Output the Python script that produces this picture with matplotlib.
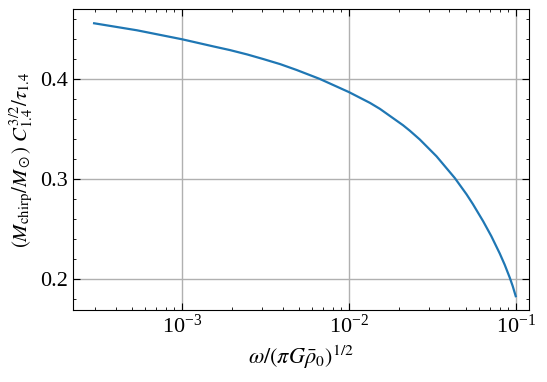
import matplotlib
matplotlib.use("Agg")
import matplotlib.pyplot as plt
from matplotlib.ticker import MultipleLocator, LogLocator, NullFormatter

plt.rcParams['font.family'] = ['Liberation Serif', 'DejaVu Serif']
plt.rcParams['mathtext.fontset'] = 'stix'

omega = [2.97e-4, 5.36e-4, 1.0e-3, 1.556e-3, 1.936e-3, 2.46e-3, 3.07e-3,
         3.88e-3, 4.86e-3, 6.13e-3, 6.70e-3, 1.0e-2, 1.337e-2, 1.535e-2,
         2.113e-2, 2.317e-2, 2.66e-2, 3.35e-2, 4.315e-2, 5.07e-2, 5.53e-2,
         6.38e-2, 7.14e-2, 8.02e-2, 8.59e-2, 9.20e-2, 9.59e-2, 1.0e-1]
quantity = [0.4557, 0.4487, 0.4397, 0.4324, 0.4289, 0.4245, 0.4199,
            0.4148, 0.4090, 0.4025, 0.4000, 0.3869, 0.3761, 0.3701,
            0.3537, 0.3483, 0.3395, 0.3227, 0.3009, 0.2847, 0.2750,
            0.2577, 0.2428, 0.2255, 0.2142, 0.2015, 0.1929, 0.1828]

fig = plt.figure(figsize=(5.47, 3.82), dpi=100)
ax = fig.add_axes([0.1335, 0.1885, 0.8335, 0.788])
ax.plot(omega, quantity, color='#1f77b4', lw=1.6)
ax.set_xscale('log')
ax.set_xlim(2.22e-4, 0.12)
ax.set_ylim(0.169, 0.47)
ax.yaxis.set_major_locator(MultipleLocator(0.1))
ax.yaxis.set_minor_locator(MultipleLocator(0.02))
ax.xaxis.set_minor_locator(LogLocator(base=10, subs=range(2, 10), numticks=20))
ax.xaxis.set_minor_formatter(NullFormatter())
ax.grid(True, which='major', color='#b0b0b0', lw=1.0)
ax.tick_params(which='both', direction='in', top=True, right=True)
ax.tick_params(which='major', length=5, labelsize=16)
ax.tick_params(which='minor', length=2.5)
ax.set_xlabel(r'$\omega/(\pi G\bar{\rho}_0)^{1/2}$', fontsize=16)
ax.set_ylabel(r'$(M_{\rm chirp}/M_\odot)\ C_{1.4}^{3/2}/\tau_{1.4}$', fontsize=15)
fig.savefig('out.png', dpi=100)
